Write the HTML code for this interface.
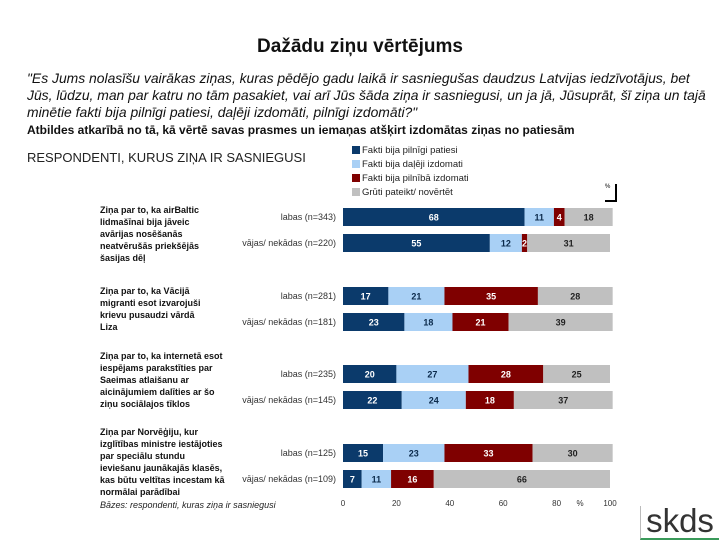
<!DOCTYPE html>
<html><head><meta charset="utf-8"><style>
body{margin:0;width:720px;height:540px;background:#fff;position:relative;overflow:hidden;font-family:"Liberation Sans",Arial,sans-serif;}
.a{position:absolute;}
.q{font-size:9px;font-weight:bold;line-height:12px;color:#111;left:100px;white-space:nowrap;}
.leg{font-size:9.5px;color:#222;left:352px;}
.sw{display:inline-block;width:8px;height:8px;margin-right:2px;vertical-align:-1px;}
</style></head><body>
<div class="a" style="left:0;width:720px;top:36px;text-align:center;font-size:19px;font-weight:bold;color:#111;">Dažādu ziņu vērtējums</div>
<div class="a" style="left:27px;top:70px;width:685px;font-size:13.9px;font-style:italic;line-height:17px;color:#111;">"Es Jums nolasīšu vairākas ziņas, kuras pēdējo gadu laikā ir sasniegušas daudzus Latvijas iedzīvotājus, bet Jūs, lūdzu, man par katru no tām pasakiet, vai arī Jūs šāda ziņa ir sasniegusi, un ja jā, Jūsuprāt, šī ziņa un tajā minētie fakti bija pilnīgi patiesi, daļēji izdomāti, pilnīgi izdomāti?"</div>
<div class="a" style="left:27px;top:123px;font-size:12px;font-weight:bold;color:#111;">Atbildes atkarībā no tā, kā vērtē savas prasmes un iemaņas atšķirt izdomātas ziņas no patiesām</div>
<div class="a" style="left:27px;top:150px;font-size:13px;color:#222;">RESPONDENTI, KURUS ZIŅA IR SASNIEGUSI</div>
<div class="a leg" style="top:145px"><span class="sw" style="background:#0b3a6b"></span>Fakti bija pilnīgi patiesi</div>
<div class="a leg" style="top:159px"><span class="sw" style="background:#a9d0f5"></span>Fakti bija daļēji izdomati</div>
<div class="a leg" style="top:173px"><span class="sw" style="background:#7f0000"></span>Fakti bija pilnībā izdomati</div>
<div class="a leg" style="top:187px"><span class="sw" style="background:#c0c0c0"></span>Grūti pateikt/ novērtēt</div>
<div class="a" style="left:605px;top:184px;width:10px;height:16px;border-right:2px solid #000;border-bottom:2px solid #000;font-size:6px;">%</div>
<div class="a q" style="top:204px">Ziņa par to, ka airBaltic<br>lidmašīnai bija jāveic<br>avārijas nosēšanās<br>neatvērušās priekšējās<br>šasijas dēļ</div>
<div class="a q" style="top:285px">Ziņa par to, ka Vācijā<br>migranti esot izvarojuši<br>krievu pusaudzi vārdā<br>Liza</div>
<div class="a q" style="top:350px">Ziņa par to, ka internetā esot<br>iespējams parakstīties par<br>Saeimas atlaišanu ar<br>aicinājumiem dalīties ar šo<br>ziņu sociālajos tīklos</div>
<div class="a q" style="top:426px">Ziņa par Norvēģiju, kur<br>izglītības ministre iestājoties<br>par speciālu stundu<br>ieviešanu jaunākajās klasēs,<br>kas būtu veltītas incestam kā<br>normālai parādībai</div>
<div class="a" style="left:100px;top:500px;font-size:9px;font-style:italic;color:#222;">Bāzes: respondenti, kuras ziņa ir sasniegusi</div>
<svg class="a" style="left:0;top:0" width="720" height="540" id="chart"></svg>
<div class="a" style="left:640px;top:506px;width:78px;height:32px;border-left:1px solid #bbb;border-bottom:2px solid #3a9a5a;font-size:33px;line-height:30px;color:#333;text-align:center;">skds</div>
<script>
const categories=["labas (n=343)","vājas/ nekādas (n=220)","labas (n=281)","vājas/ nekādas (n=181)","labas (n=235)","vājas/ nekādas (n=145)","labas (n=125)","vājas/ nekādas (n=109)"];
const seriesTrue=[68,55,17,23,20,22,15,7];
const seriesPartly=[11,12,21,18,27,24,23,11];
const seriesFalse=[4,2,35,21,28,18,33,16];
const seriesUnsure=[18,31,28,39,25,37,30,66];
const ticks=[0,20,40,60,80,100];
const rowY=[217,243,296,322,374,400,453,479];
const colors=["#0b3a6b","#a9d0f5","#7f0000","#c0c0c0"];
const txtCol=["#fff","#0b2a4b","#fff","#222"];
const svg=document.getElementById('chart');const NS="http://www.w3.org/2000/svg";
const x=v=>343+v*2.67;
function mk(t,a){const e=document.createElementNS(NS,t);for(const k in a)e.setAttribute(k,a[k]);svg.appendChild(e);return e;}
const series=[seriesTrue,seriesPartly,seriesFalse,seriesUnsure];
const sn=["true","partly","false","unsure"];
categories.forEach((c,i)=>{
  const y=rowY[i];
  const l=mk('text',{x:336,y:y+3,'text-anchor':'end','font-size':9,fill:'#333'});l.textContent=c;
  
  
  let acc=0;
  series.forEach((s,j)=>{
    const v=s[i];
    const r=mk('rect',{x:x(acc),y:y-9,width:Math.max(0,x(acc+v)-x(acc)),height:18,fill:colors[j]});
    
    
    const t=mk('text',{x:(x(acc)+x(acc+v))/2,y:y+3.5,'text-anchor':'middle','font-size':9,'font-weight':'bold',fill:txtCol[j]});
    t.textContent=v;
    
    
    acc+=v;
  });
});
ticks.forEach(t=>{
  const e=mk('text',{x:x(t),y:506,'text-anchor':'middle','font-size':8,fill:'#333'});e.textContent=t;
  
  
});
const p=mk('text',{x:580,y:506,'text-anchor':'middle','font-size':8,fill:'#333'});p.textContent='%';


</script>
</body></html>
